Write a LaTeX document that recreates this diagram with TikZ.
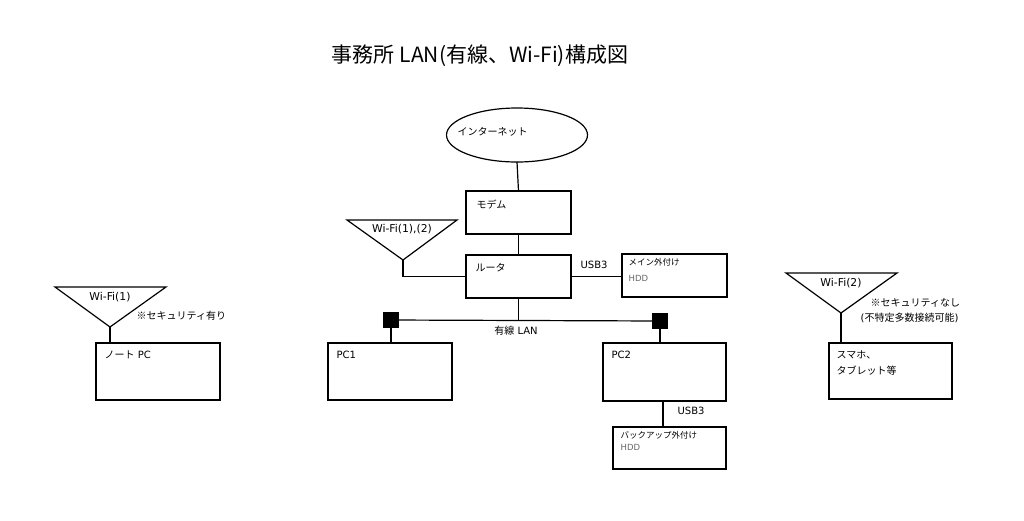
\documentclass[tikz,border=0pt]{standalone}
\usepackage{fontspec}
\setmainfont{DejaVu Sans}
\newfontfamily\jp{Noto Sans CJK JP}
\usetikzlibrary{shapes.geometric}
\begin{document}
\begin{tikzpicture}[x=1pt,y=-1pt,line width=1.2pt,
  box/.style={draw,rectangle,inner sep=0pt,outer sep=0pt,anchor=north west},
  sq/.style={draw,fill=black,rectangle,inner sep=0pt,outer sep=0pt,minimum size=14pt},
  txt/.style={anchor=west,inner sep=0pt,font=\fontsize{10}{12}\selectfont},
  small/.style={anchor=west,inner sep=0pt,font=\fontsize{8.5}{10}\selectfont},
  gray/.style={text=black!60},
  wifi/.style={inner sep=0pt,font=\fontsize{10.8}{13}\selectfont}]
\useasboundingbox[fill=white] (0,0) rectangle (1024,520);

% title
\node[inner sep=0pt,font=\jp\fontsize{21}{24}\selectfont] (title) at (480,56) {事務所 LAN(有線、Wi-Fi)構成図};

% internet, modem, router
\node[draw,ellipse,inner sep=0pt,outer sep=0pt,minimum width=141pt,minimum height=54pt] (inet) at (517,135) {};
\node[txt] (inettxt) at (457,132) {\jp インターネット};
\node[box,minimum width=105pt,minimum height=43pt] (modem) at (466,191) {};
\node[txt] (modemtxt) at (476,205) {\jp モデム};
\node[box,minimum width=105pt,minimum height=43pt] (router) at (466,255) {};
\node[txt] (routertxt) at (475,268) {\jp ルータ};
\node[box,minimum width=105pt,minimum height=43pt] (hdd1) at (622,254) {};
\node[small] (hdd1a) at (628,262) {\jp メイン外付け};
\node[small,gray] (hdd1b) at (628,278) {HDD};
\node[txt] (usb1) at (580,265) {USB3};

\draw (inet.south) -- (modem.north);
\draw (modem.south) -- (router.north);
\draw (router.east) -- (router.east -| hdd1.west);

% Wi-Fi (1),(2) at router
\coordinate (ap0) at (403,260);
\coordinate (ap0l) at (347,220);
\coordinate (ap0r) at (457,220);
\draw (ap0l) -- (ap0r) -- (ap0) -- cycle;
\node[wifi] (ap0txt) at (402,229) {Wi-Fi(1),(2)};
\draw (ap0) |- (router.west);

% wired LAN
\node[sq] (s1) at (391,320) {};
\node[sq] (s2) at (660,321) {};
\draw (s1) -- (s2);
\draw (router.south) -- (router.south |- s1);
\node[inner sep=0pt,font=\fontsize{10}{12}\selectfont] (lantxt) at (516,331) {{\jp 有線} LAN};

\node[box,minimum width=124pt,minimum height=57pt] (pc1) at (328,343) {};
\node[txt] (pc1txt) at (336,355) {PC1};
\node[box,minimum width=123pt,minimum height=58pt] (pc2) at (603,343) {};
\node[txt] (pc2txt) at (611,355) {PC2};
\draw (s1.south) -- (s1.south |- pc1.north);
\draw (s2.south) -- (s2.south |- pc2.north);

\node[box,minimum width=113pt,minimum height=42pt] (hdd2) at (613,427) {};
\node[small] (hdd2a) at (620,435) {\jp バックアップ外付け};
\node[small,gray] (hdd2b) at (620,447) {HDD};
\draw ([xshift=-1.5pt]pc2.south) -- ([xshift=-1.5pt]pc2.south |- hdd2.north);
\node[txt] (usb2) at (677,411) {USB3};

% left Wi-Fi(1)
\coordinate (ap1) at (110,327);
\coordinate (ap1l) at (55,287);
\coordinate (ap1r) at (166,287);
\draw (ap1l) -- (ap1r) -- (ap1) -- cycle;
\node[wifi] (ap1txt) at (110,297) {Wi-Fi(1)};
\node[txt] (sec1) at (136,316) {\jp ※セキュリティ有り};
\node[box,minimum width=124pt,minimum height=57pt] (note) at (96,343) {};
\node[txt] (notetxt) at (104,355) {{\jp ノート} PC};
\draw (ap1) -- (ap1 |- note.north);

% right Wi-Fi(2)
\coordinate (ap2) at (841,313);
\coordinate (ap2l) at (786,273);
\coordinate (ap2r) at (897,273);
\draw (ap2l) -- (ap2r) -- (ap2) -- cycle;
\node[wifi] (ap2txt) at (841,283) {Wi-Fi(2)};
\node[txt] (sec2a) at (870,303) {\jp ※セキュリティなし};
\node[txt] (sec2b) at (860,318) {(\jp 不特定多数接続可能\rmfamily)};
\node[box,minimum width=123pt,minimum height=56pt] (phone) at (829,343) {};
\node[txt] (phonea) at (836,355) {\jp スマホ、};
\node[txt] (phoneb) at (836,371) {\jp タブレット等};
\draw (ap2) -- (ap2 |- phone.north);
\end{tikzpicture}
\end{document}
